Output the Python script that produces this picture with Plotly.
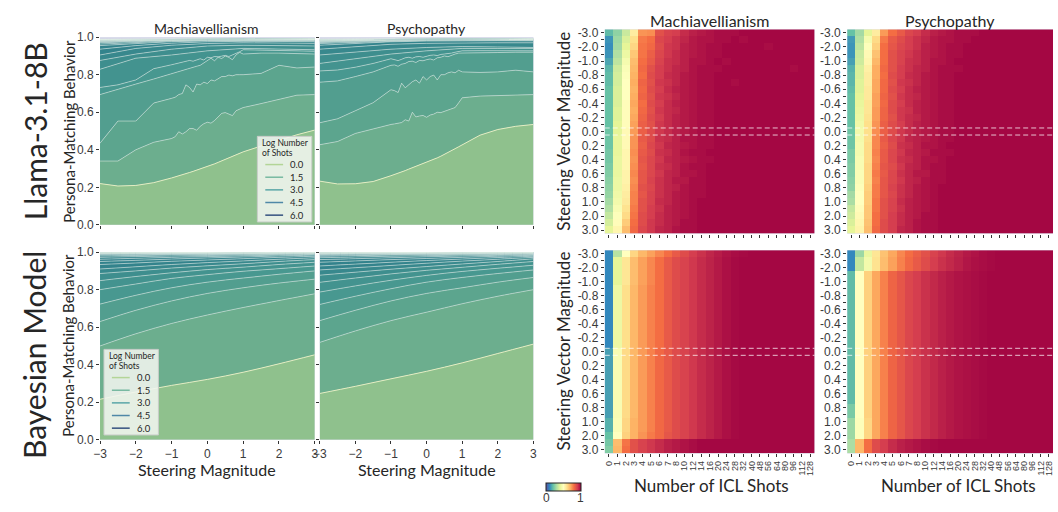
import plotly.graph_objects as go

W, H = 1058, 512
def PX(x): return x / W
def PY(y): return 1 - y / H

# ---------------- data ----------------
STEER_FINE = [-3, -2.5, -2, -1.5, -1, -0.9, -0.8, -0.7, -0.6, -0.5, -0.4, -0.3, -0.2, -0.1, 0.0,
              0.1, 0.2, 0.3, 0.4, 0.5, 0.6, 0.7, 0.8, 0.9, 1, 1.5, 2, 2.5, 3]
STEER_COARSE = [-3, -2, -1, 0, 1, 2, 3]
SHOTS = [0, 1, 2, 3, 4, 5, 6, 7, 8, 10, 12, 14, 16, 20, 24, 28, 32, 40, 48, 56, 64, 80, 96, 112, 128]
BEHAVIOR_TICKS = [0.0, 0.2, 0.4, 0.6, 0.8, 1.0]
LEGEND_LEVELS = [0.0, 1.5, 3.0, 4.5, 6.0]
COLORBAR_TICKS = [0, 1]

LLAMA_MACH_LINES = [
    [.22, .207, .21, .225, .25, .255, .26, .266, .272, .279, .285, .291, .297, .303, .31, .317, .325, .333, .341, .349, .357, .365, .373, .381, .389, .42, .45, .48, .505],
    [.34, .34, .40, .44, .46, .47, .496, .484, .496, .513, .513, .504, .525, .539, .547, .542, .556, .573, .594, .598, .59, .582, .608, .617, .625, .646, .668, .691, .694],
    [.435, .553, .553, .649, .674, .68, .694, .70, .746, .732, .708, .75, .746, .76, .753, .772, .767, .78, .79, .79, .798, .794, .80, .80, .80, .807, .85, .836, .841],
    [.694, .72, .75, .777, .807, .812, .818, .823, .829, .836, .84, .845, .85, .862, .876, .888, .874, .893, .886, .90, .892, .88, .905, .919, .91, .915, .915, .912, .91],
    [.732, .746, .772, .832, .853, .858, .862, .866, .87, .876, .872, .88, .885, .878, .893, .89, .897, .895, .90, .903, .897, .905, .91, .922, .933, .93, .928, .926, .925],
    [.829, .888, .905, .927, .94, .935, .933],
    [.876, .91, .936, .953, .957, .955, .953],
    [.905, .94, .957, .966, .97, .968, .967],
    [.936, .955, .968, .975, .978, .977, .976],
    [.955, .966, .976, .980, .982, .981, .980],
    [.963, .972, .979, .983, .984, .984, .983],
    [.970, .977, .982, .985, .986, .986, .985],
    [.974, .980, .984, .986, .987, .987, .986],
    [.977, .982, .985, .987, .988, .988, .987],
    [.979, .983, .986, .988, .988, .988, .988],
    [.981, .984, .987, .988, .989, .989, .988],
    [.982, .985, .987, .989, .989, .989, .989],
    [.983, .986, .988, .989, .989, .989, .989],
    [.984, .987, .988, .989, .990, .990, .989],
    [.985, .987, .989, .990, .990, .990, .990],
    [.986, .988, .989, .990, .990, .990, .990],
    [.987, .988, .989, .990, .991, .990, .990],
    [.987, .989, .990, .990, .991, .991, .990],
    [.988, .989, .990, .991, .991, .991, .991],
    [.988, .990, .990, .991, .991, .991, .991],
]

LLAMA_PSYCH_LINES = [
    [.233, .218, .219, .231, .262, .268, .275, .282, .289, .297, .304, .311, .318, .325, .332, .34, .349, .357, .366, .375, .385, .395, .406, .416, .427, .478, .508, .525, .535],
    [.427, .444, .487, .513, .535, .538, .54, .545, .56, .553, .60, .575, .58, .583, .573, .585, .59, .60, .598, .605, .61, .615, .625, .65, .677, .686, .69, .694, .694],
    [.544, .565, .608, .651, .72, .715, .705, .755, .73, .746, .763, .772, .755, .79, .772, .79, .798, .772, .80, .80, .81, .815, .81, .824, .815, .812, .815, .824, .815],
    [.76, .767, .79, .815, .85, .852, .845, .856, .86, .87, .872, .865, .876, .874, .88, .884, .878, .89, .893, .90, .896, .905, .91, .915, .915, .918, .918, .92, .92],
    [.82, .825, .84, .86, .885, .88, .875, .882, .89, .893, .888, .895, .897, .893, .90, .903, .905, .902, .908, .91, .912, .915, .92, .925, .927, .928, .928, .927, .927],
    [.86, .885, .91, .927, .94, .94, .94],
    [.905, .92, .936, .945, .95, .948, .945],
    [.936, .95, .962, .967, .97, .97, .97],
    [.957, .966, .975, .979, .981, .981, .98],
    [.966, .973, .979, .983, .984, .984, .983],
    [.971, .977, .982, .985, .986, .986, .985],
    [.975, .980, .984, .986, .987, .987, .986],
    [.977, .982, .985, .987, .988, .988, .987],
    [.979, .983, .986, .988, .988, .988, .988],
    [.981, .984, .987, .988, .989, .989, .988],
    [.982, .985, .987, .989, .989, .989, .989],
    [.983, .986, .988, .989, .989, .989, .989],
    [.984, .987, .988, .989, .990, .990, .989],
    [.985, .987, .989, .990, .990, .990, .990],
    [.986, .988, .989, .990, .990, .990, .990],
    [.987, .988, .989, .990, .991, .990, .990],
    [.987, .989, .990, .990, .991, .991, .990],
    [.988, .989, .990, .991, .991, .991, .991],
    [.988, .990, .990, .991, .991, .991, .991],
    [.989, .990, .991, .991, .992, .991, .991],
]

BAYES_MACH_LINES = [
    [.216, .255, .29, .322, .36, .405, .453],
    [.50, .565, .62, .665, .705, .742, .778],
    [.63, .69, .74, .78, .81, .835, .856],
    [.723, .77, .81, .84, .862, .882, .90],
    [.80, .83, .86, .88, .898, .912, .926],
    [.848, .87, .89, .907, .92, .934, .946],
    [.886, .90, .915, .927, .938, .95, .96],
    [.91, .922, .934, .944, .953, .962, .97],
    [.934, .942, .951, .958, .965, .972, .978],
    [.95, .956, .963, .969, .974, .979, .984],
    [.962, .967, .972, .976, .98, .984, .988],
    [.972, .976, .979, .982, .985, .988, .991],
    [.979, .982, .985, .987, .989, .991, .993],
    [.984, .986, .988, .99, .991, .993, .994],
    [.988, .989, .991, .992, .993, .994, .995],
    [.991, .992, .993, .994, .995, .995, .996],
    [.993, .994, .994, .995, .996, .996, .997],
    [.994, .995, .995, .996, .996, .997, .997],
    [.995, .996, .996, .997, .997, .997, .998],
    [.996, .996, .997, .997, .997, .998, .998],
    [.996, .997, .997, .997, .998, .998, .998],
    [.997, .997, .997, .998, .998, .998, .998],
    [.997, .997, .998, .998, .998, .998, .999],
    [.997, .998, .998, .998, .998, .999, .999],
    [.998, .998, .998, .998, .999, .999, .999],
]

BAYES_PSYCH_LINES = [
    [.247, .285, .325, .365, .41, .46, .51],
    [.519, .58, .635, .68, .725, .765, .80],
    [.635, .69, .74, .78, .81, .84, .865],
    [.721, .765, .805, .84, .865, .886, .905],
    [.787, .82, .85, .876, .897, .914, .93],
    [.839, .862, .884, .903, .919, .935, .95],
    [.877, .893, .909, .923, .937, .95, .964],
    [.905, .917, .929, .941, .952, .962, .972],
    [.926, .936, .946, .955, .963, .971, .978],
    [.946, .953, .96, .966, .972, .978, .983],
    [.96, .965, .97, .975, .979, .983, .987],
    [.97, .974, .978, .981, .984, .987, .99],
    [.978, .981, .984, .986, .988, .99, .992],
    [.983, .985, .987, .989, .991, .992, .994],
    [.987, .989, .99, .991, .993, .994, .995],
    [.99, .991, .992, .993, .994, .995, .996],
    [.992, .993, .994, .995, .995, .996, .997],
    [.994, .994, .995, .996, .996, .997, .997],
    [.995, .995, .996, .996, .997, .997, .998],
    [.996, .996, .997, .997, .997, .998, .998],
    [.996, .997, .997, .997, .998, .998, .998],
    [.997, .997, .997, .998, .998, .998, .998],
    [.997, .997, .998, .998, .998, .998, .999],
    [.997, .998, .998, .998, .998, .999, .999],
    [.998, .998, .998, .998, .999, .999, .999],
]

LLAMA_MACH_HEAT = [
    [.19, .26, .35, .56, .74, .75, .86, .89, .90, .93, .95, .96, .97, .98, .98, .98, .99, .99, .99, .99, .99, .99, .99, .99, .99],
    [.12, .28, .38, .60, .78, .80, .88, .90, .92, .94, .96, .97, .97, .98, .98, .99, .98, .99, .99, .99, .99, .99, .99, .99, .99],
    [.11, .29, .40, .62, .79, .81, .87, .91, .92, .95, .96, .97, .98, .98, .99, .99, .99, .99, .99, .98, .99, .99, .99, .99, .99],
    [.12, .31, .43, .65, .79, .83, .88, .91, .93, .95, .96, .97, .98, .98, .99, .99, .99, .99, .99, .99, .99, .99, .99, .99, .99],
    [.15, .33, .46, .67, .80, .84, .89, .92, .93, .95, .97, .97, .98, .99, .98, .99, .99, .99, .99, .99, .99, .99, .99, .99, .99],
    [.18, .36, .48, .68, .81, .86, .90, .92, .94, .95, .97, .98, .98, .98, .99, .99, .99, .99, .99, .99, .99, .99, .98, .99, .99],
    [.19, .37, .49, .69, .80, .87, .90, .93, .94, .96, .97, .98, .98, .99, .99, .99, .99, .99, .99, .99, .99, .99, .99, .99, .99],
    [.19, .37, .50, .70, .82, .86, .91, .92, .94, .96, .97, .98, .98, .99, .99, .98, .99, .99, .99, .99, .99, .99, .99, .99, .99],
    [.20, .38, .50, .69, .81, .87, .90, .93, .95, .96, .97, .98, .98, .99, .99, .99, .99, .99, .99, .99, .99, .99, .99, .99, .99],
    [.20, .38, .50, .70, .82, .86, .91, .92, .94, .96, .97, .98, .98, .99, .99, .99, .99, .99, .99, .99, .99, .99, .99, .99, .99],
    [.20, .38, .51, .71, .80, .87, .90, .93, .95, .96, .97, .98, .98, .99, .99, .99, .99, .99, .99, .99, .99, .99, .99, .99, .99],
    [.20, .39, .51, .70, .81, .86, .91, .93, .94, .96, .97, .98, .98, .99, .99, .99, .99, .99, .99, .99, .99, .99, .99, .99, .99],
    [.20, .39, .51, .71, .82, .87, .90, .93, .95, .96, .97, .98, .98, .99, .99, .99, .99, .99, .99, .99, .99, .99, .99, .99, .99],
    [.20, .40, .51, .72, .83, .86, .91, .93, .95, .96, .97, .98, .98, .99, .99, .99, .99, .99, .99, .99, .99, .99, .99, .99, .99],
    [.21, .40, .52, .73, .83, .87, .91, .93, .95, .96, .97, .98, .98, .99, .99, .99, .99, .99, .99, .99, .99, .99, .99, .99, .99],
    [.21, .41, .52, .74, .84, .87, .92, .93, .95, .97, .97, .98, .98, .99, .99, .99, .99, .99, .99, .99, .99, .99, .99, .99, .99],
    [.21, .41, .52, .74, .83, .88, .91, .94, .95, .96, .97, .98, .98, .99, .99, .99, .99, .99, .99, .99, .99, .99, .99, .99, .99],
    [.22, .41, .53, .75, .84, .87, .92, .93, .95, .97, .98, .98, .99, .99, .99, .99, .99, .99, .99, .99, .99, .99, .99, .99, .99],
    [.22, .42, .53, .74, .85, .88, .91, .94, .95, .96, .97, .98, .98, .99, .99, .99, .99, .99, .99, .99, .99, .99, .99, .99, .99],
    [.23, .42, .53, .75, .84, .88, .92, .93, .95, .97, .98, .98, .99, .99, .99, .99, .99, .99, .99, .99, .99, .99, .99, .99, .99],
    [.24, .42, .54, .76, .85, .88, .91, .94, .95, .97, .97, .98, .99, .99, .99, .99, .99, .99, .99, .99, .99, .99, .99, .99, .99],
    [.25, .43, .54, .75, .85, .89, .92, .94, .96, .96, .98, .98, .99, .99, .99, .99, .99, .99, .99, .99, .99, .99, .99, .99, .99],
    [.26, .43, .55, .76, .86, .88, .92, .94, .95, .97, .98, .98, .99, .99, .99, .99, .99, .99, .99, .99, .99, .99, .99, .99, .99],
    [.27, .44, .56, .77, .85, .89, .92, .94, .96, .97, .98, .98, .99, .99, .99, .99, .99, .99, .99, .99, .99, .99, .99, .99, .99],
    [.29, .45, .57, .77, .86, .89, .93, .94, .96, .97, .98, .99, .99, .99, .99, .99, .99, .99, .99, .99, .99, .99, .99, .99, .99],
    [.31, .47, .59, .78, .86, .90, .92, .95, .96, .97, .98, .99, .99, .99, .99, .99, .99, .99, .99, .99, .99, .99, .99, .99, .99],
    [.34, .49, .61, .79, .87, .90, .93, .95, .96, .97, .98, .99, .99, .99, .99, .99, .99, .99, .99, .99, .99, .99, .99, .99, .99],
    [.37, .51, .64, .80, .87, .91, .93, .95, .96, .98, .98, .99, .99, .99, .99, .99, .99, .99, .99, .99, .99, .99, .99, .99, .99],
    [.40, .53, .67, .81, .88, .91, .94, .95, .97, .98, .98, .99, .99, .99, .99, .99, .99, .99, .99, .99, .99, .99, .99, .99, .99],
]

LLAMA_PSYCH_HEAT = [
    [.20, .29, .40, .56, .73, .80, .84, .88, .90, .93, .95, .96, .97, .98, .98, .98, .99, .99, .99, .99, .99, .99, .99, .99, .99],
    [.13, .31, .46, .61, .78, .84, .87, .90, .92, .94, .96, .97, .97, .98, .98, .99, .99, .99, .99, .99, .99, .99, .99, .99, .99],
    [.12, .33, .49, .63, .80, .85, .88, .90, .92, .95, .96, .97, .98, .98, .99, .99, .99, .99, .99, .99, .99, .99, .99, .99, .99],
    [.12, .35, .52, .66, .80, .86, .89, .91, .93, .95, .96, .97, .98, .98, .99, .99, .99, .99, .99, .99, .99, .99, .99, .99, .99],
    [.14, .36, .53, .68, .80, .86, .89, .92, .93, .95, .97, .97, .98, .99, .99, .99, .99, .99, .99, .99, .99, .99, .99, .99, .99],
    [.17, .38, .55, .70, .81, .86, .90, .92, .94, .95, .97, .98, .98, .98, .99, .99, .99, .99, .99, .99, .99, .99, .99, .99, .99],
    [.18, .38, .56, .70, .80, .87, .90, .93, .94, .96, .97, .98, .98, .99, .99, .99, .99, .99, .99, .99, .99, .99, .99, .99, .99],
    [.18, .39, .56, .71, .81, .86, .91, .92, .94, .96, .97, .98, .98, .99, .99, .99, .99, .99, .99, .99, .99, .99, .99, .99, .99],
    [.19, .39, .57, .71, .81, .87, .90, .93, .95, .96, .97, .98, .98, .99, .99, .99, .99, .99, .99, .99, .99, .99, .99, .99, .99],
    [.20, .40, .57, .72, .82, .86, .91, .93, .94, .96, .97, .98, .98, .99, .99, .99, .99, .99, .99, .99, .99, .99, .99, .99, .99],
    [.20, .41, .58, .72, .81, .87, .90, .93, .95, .96, .97, .98, .98, .99, .99, .99, .99, .99, .99, .99, .99, .99, .99, .99, .99],
    [.20, .42, .58, .73, .82, .87, .91, .92, .95, .96, .97, .98, .98, .99, .99, .99, .99, .99, .99, .99, .99, .99, .99, .99, .99],
    [.20, .43, .59, .73, .82, .86, .91, .93, .94, .96, .97, .98, .98, .99, .99, .99, .99, .99, .99, .99, .99, .99, .99, .99, .99],
    [.20, .44, .60, .74, .83, .87, .90, .93, .95, .96, .97, .98, .98, .99, .99, .99, .99, .99, .99, .99, .99, .99, .99, .99, .99],
    [.21, .45, .60, .75, .83, .87, .91, .93, .95, .96, .97, .98, .98, .99, .99, .99, .99, .99, .99, .99, .99, .99, .99, .99, .99],
    [.21, .45, .60, .76, .84, .88, .91, .94, .95, .96, .97, .98, .98, .99, .99, .99, .99, .99, .99, .99, .99, .99, .99, .99, .99],
    [.21, .46, .61, .76, .83, .87, .92, .93, .95, .97, .97, .98, .99, .99, .99, .99, .99, .99, .99, .99, .99, .99, .99, .99, .99],
    [.23, .46, .61, .77, .84, .88, .91, .94, .95, .96, .98, .98, .98, .99, .99, .99, .99, .99, .99, .99, .99, .99, .99, .99, .99],
    [.23, .47, .61, .76, .84, .88, .92, .93, .95, .97, .97, .98, .99, .99, .99, .99, .99, .99, .99, .99, .99, .99, .99, .99, .99],
    [.24, .47, .62, .77, .85, .87, .91, .94, .95, .97, .98, .98, .99, .99, .99, .99, .99, .99, .99, .99, .99, .99, .99, .99, .99],
    [.24, .48, .62, .78, .84, .88, .92, .94, .96, .96, .98, .98, .99, .99, .99, .99, .99, .99, .99, .99, .99, .99, .99, .99, .99],
    [.25, .48, .62, .77, .85, .88, .91, .94, .95, .97, .98, .98, .99, .99, .99, .99, .99, .99, .99, .99, .99, .99, .99, .99, .99],
    [.26, .49, .63, .78, .85, .89, .92, .94, .96, .97, .98, .99, .99, .99, .99, .99, .99, .99, .99, .99, .99, .99, .99, .99, .99],
    [.29, .50, .64, .78, .85, .88, .92, .94, .96, .97, .98, .99, .99, .99, .99, .99, .99, .99, .99, .99, .99, .99, .99, .99, .99],
    [.30, .50, .64, .79, .86, .89, .93, .95, .96, .97, .98, .99, .99, .99, .99, .99, .99, .99, .99, .99, .99, .99, .99, .99, .99],
    [.34, .51, .65, .79, .86, .89, .92, .95, .96, .97, .98, .99, .99, .99, .99, .99, .99, .99, .99, .99, .99, .99, .99, .99, .99],
    [.36, .52, .65, .80, .86, .90, .93, .95, .96, .98, .98, .99, .99, .99, .99, .99, .99, .99, .99, .99, .99, .99, .99, .99, .99],
    [.38, .53, .66, .80, .87, .90, .93, .95, .97, .98, .98, .99, .99, .99, .99, .99, .99, .99, .99, .99, .99, .99, .99, .99, .99],
    [.40, .54, .67, .81, .87, .90, .94, .95, .97, .98, .98, .99, .99, .99, .99, .99, .99, .99, .99, .99, .99, .99, .99, .99, .99],
]

# Bayesian heatmaps: rows that read identical in the picture are shared
BM_ROW_TOP = [.10, .32, .50, .62, .68, .72, .76, .80, .84, .87, .90, .92, .94, .955, .97, .98, .985, .99, .99, .99, .99, .99, .99, .99, .99]
BM_ROW_NEG = [.10, .40, .58, .67, .72, .76, .80, .84, .87, .89, .91, .93, .945, .96, .975, .985, .99, .99, .99, .99, .99, .99, .99, .99, .99]
BM_ROW_MID = [.10, .43, .60, .68, .73, .77, .80, .84, .87, .89, .91, .93, .945, .96, .975, .985, .99, .99, .99, .99, .99, .99, .99, .99, .99]
BM_ROW_POS = [.14, .47, .61, .68, .73, .77, .81, .84, .87, .89, .91, .93, .945, .96, .975, .985, .99, .99, .99, .99, .99, .99, .99, .99, .99]
BM_ROW_ONE = [.17, .48, .62, .69, .73, .77, .81, .84, .87, .89, .91, .93, .945, .96, .975, .985, .99, .99, .99, .99, .99, .99, .99, .99, .99]
BM_ROW_TWO = [.20, .50, .63, .69, .74, .78, .81, .85, .87, .89, .91, .93, .945, .96, .975, .985, .99, .99, .99, .99, .99, .99, .99, .99, .99]
BM_ROW_B27 = [.22, .67, .79, .86, .89, .91, .93, .95, .96, .97, .98, .99, .99, .99, .99, .99, .99, .99, .99, .99, .99, .99, .99, .99, .99]
BM_ROW_B28 = [.24, .68, .80, .86, .89, .91, .93, .95, .96, .97, .98, .99, .99, .99, .99, .99, .99, .99, .99, .99, .99, .99, .99, .99, .99]
BAYES_MACH_HEAT = ([BM_ROW_TOP] + [BM_ROW_NEG] * 4 + [BM_ROW_MID] * 9 + [BM_ROW_POS] * 10
                   + [BM_ROW_ONE] * 2 + [BM_ROW_TWO] + [BM_ROW_B27, BM_ROW_B28])

BP_ROW_TOP = [.10, .28, .42, .58, .66, .71, .76, .80, .83, .86, .89, .91, .93, .945, .96, .97, .98, .985, .99, .99, .99, .99, .99, .99, .99]
BP_ROW_NEG = [.10, .34, .45, .59, .67, .72, .77, .81, .84, .87, .90, .92, .935, .95, .965, .975, .98, .985, .99, .99, .99, .99, .99, .99, .99]
BP_ROW_MID = [.19, .50, .63, .71, .77, .82, .85, .88, .90, .92, .935, .95, .96, .97, .975, .98, .985, .99, .99, .99, .99, .99, .99, .99, .99]
BP_ROW_LOW = [.23, .50, .63, .71, .77, .82, .85, .88, .90, .92, .935, .95, .96, .97, .975, .98, .985, .99, .99, .99, .99, .99, .99, .99, .99]
BP_ROW_ONE = [.28, .49, .62, .71, .77, .82, .85, .88, .90, .92, .935, .95, .96, .97, .975, .98, .985, .99, .99, .99, .99, .99, .99, .99, .99]
BP_ROW_BOT = [.30, .68, .80, .87, .90, .93, .95, .96, .97, .98, .985, .99, .99, .99, .99, .99, .99, .99, .99, .99, .99, .99, .99, .99, .99]
BAYES_PSYCH_HEAT = ([BP_ROW_TOP] + [BP_ROW_NEG] * 2 + [BP_ROW_MID] * 19 + [BP_ROW_LOW] * 2
                    + [BP_ROW_ONE] * 3 + [BP_ROW_BOT] * 2)

# ---------------- styling ----------------
LABEL_FONT = "Lato, 'Open Sans', sans-serif"
TICK_FONT = "'Liberation Sans', Arial, sans-serif"
TXT = '#262626'

BAND_STOPS = [(0, (143, 193, 141)), (1, (108, 174, 142)), (2, (92, 165, 142)), (4, (72, 152, 144)),
              (8, (51, 131, 140)), (24, (42, 118, 136))]

def band_color(k):
    for (k0, c0), (k1, c1) in zip(BAND_STOPS[:-1], BAND_STOPS[1:]):
        if k0 <= k <= k1:
            t = (k - k0) / (k1 - k0)
            r, g, b = [round(a + (b_ - a) * t) for a, b_ in zip(c0, c1)]
            return f'rgb({r},{g},{b})'
    return 'rgb(42,118,136)'

LINE0 = 'rgba(236,242,196,0.9)'
LINEK = 'rgba(222,236,228,0.55)'
LEGEND_COLORS = ['#b3d597', '#78b9a1', '#5ba7a8', '#4f88a7', '#34517f']

fig = go.Figure()

line_panels = [(LLAMA_MACH_LINES, 'x', 'y', False), (LLAMA_PSYCH_LINES, 'x2', 'y2', False),
               (BAYES_MACH_LINES, 'x3', 'y3', True), (BAYES_PSYCH_LINES, 'x4', 'y4', True)]
for lines, xa, ya, smooth in line_panels:
    for k, vals in enumerate(lines):
        xs = STEER_FINE if len(vals) == len(STEER_FINE) else STEER_COARSE
        fig.add_trace(go.Scatter(
            x=xs, y=vals, mode='lines', xaxis=xa, yaxis=ya,
            line=dict(color=LINE0 if k == 0 else LINEK, width=1,
                      shape='spline' if smooth else 'linear'),
            fill='tozeroy' if k == 0 else 'tonexty', fillcolor=band_color(k),
            showlegend=False, hoverinfo='skip'))

heat_panels = [(LLAMA_MACH_HEAT, 'x5', 'y5'), (LLAMA_PSYCH_HEAT, 'x6', 'y6'),
               (BAYES_MACH_HEAT, 'x7', 'y7'), (BAYES_PSYCH_HEAT, 'x8', 'y8')]
for z, xa, ya in heat_panels:
    fig.add_trace(go.Heatmap(z=z, coloraxis='coloraxis', xaxis=xa, yaxis=ya, hoverinfo='skip'))

LINE_X = [(94, 311), (316, 532)]
LINE_Y = [(31, 224), (252, 445)]
HEAT_X = [(604, 816), (849, 1057)]
HEAT_Y = [(23, 233), (250, 459)]

tickfont = dict(family=TICK_FONT, size=12, color='#3a3a3a')
layout = {}
n = 1
for r in range(2):
    for c in range(2):
        key = '' if n == 1 else str(n)
        layout['xaxis' + key] = dict(
            domain=[PX(LINE_X[c][0]), PX(LINE_X[c][1])], anchor='y' + key, range=[-3, 3],
            tickvals=STEER_COARSE, ticks='outside', ticklen=3, tickcolor='#333',
            showticklabels=(r == 1), showgrid=False, zeroline=False, showline=False,
            tickfont=tickfont)
        layout['yaxis' + key] = dict(
            domain=[PY(LINE_Y[r][1]), PY(LINE_Y[r][0])], anchor='x' + key, range=[0, 1],
            tickvals=BEHAVIOR_TICKS, tickformat='.1f', ticks='outside', ticklen=3, tickcolor='#333',
            showticklabels=(c == 0), showgrid=False, zeroline=False, showline=False,
            tickfont=tickfont)
        n += 1

row_labels = [f'{s:.1f}' if i % 2 == 0 else '' for i, s in enumerate(STEER_FINE)]
for r in range(2):
    for c in range(2):
        key = str(n)
        layout['xaxis' + key] = dict(
            domain=[PX(HEAT_X[c][0]), PX(HEAT_X[c][1])], anchor='y' + key,
            range=[-0.5, len(SHOTS) - 0.5], tickvals=list(range(len(SHOTS))),
            ticktext=[str(s) for s in SHOTS], tickangle=-90, ticks='outside', ticklen=3,
            tickcolor='#333', showticklabels=(r == 1), showgrid=False, zeroline=False,
            showline=False, tickfont=dict(family=TICK_FONT, size=9, color='#3a3a3a'))
        layout['yaxis' + key] = dict(
            domain=[PY(HEAT_Y[r][1]), PY(HEAT_Y[r][0])], anchor='x' + key,
            range=[len(STEER_FINE) - 0.5, -0.5], tickvals=list(range(len(STEER_FINE))),
            ticktext=row_labels, ticks='outside', ticklen=3, tickcolor='#333',
            showgrid=False, zeroline=False, showline=False, tickfont=tickfont)
        n += 1

shapes = []
zero_idx = STEER_FINE.index(0.0)
for n in range(5, 9):
    for yy in (zero_idx - 0.5, zero_idx + 0.5):
        shapes.append(dict(type='line', xref=f'x{n} domain', x0=0, x1=1, yref=f'y{n}', y0=yy, y1=yy,
                           line=dict(color='rgba(255,255,255,0.75)', width=1, dash='5px,3px')))

annotations = []
def ann(text, x, y, size, angle=0, family=LABEL_FONT, color=TXT, xanchor='center', yanchor='middle'):
    annotations.append(dict(text=text, x=PX(x), y=PY(y), xref='paper', yref='paper', showarrow=False,
                            textangle=angle, font=dict(family=family, size=size, color=color),
                            xanchor=xanchor, yanchor=yanchor))

ann('Llama-3.1-8B', 28, 128, 30, -90)
ann('Bayesian Model', 28, 358, 30, -90)
for yc in (128, 348):
    ann('Persona-Matching Behavior', 62, yc, 15, -90)
ann('Machiavellianism', 202, 22, 14)
ann('Psychopathy', 424, 22, 14)
ann('Steering Magnitude', 202, 476, 16)
ann('Steering Magnitude', 424, 476, 16)
ann('Machiavellianism', 710, 14, 16)
ann('Psychopathy', 953, 14, 16)
for yc in (128, 354):
    ann('Steering Vector Magnitude', 562, yc, 17, -90)
ann('Number of ICL Shots', 712, 492, 17)
ann('Number of ICL Shots', 962, 492, 17)

# colorbar tick labels (0 and 1 at the two ends of the bar)
CB_X0, CB_X1 = 545, 580
for v in COLORBAR_TICKS:
    ann(str(v), CB_X0 + (CB_X1 - CB_X0) * v, 505, 12, family=TICK_FONT, color='#3a3a3a')

# legends (drawn as boxes with sample lines)
for bx, by in ((253, 133), (98, 352)):
    shapes.append(dict(type='rect', xref='paper', yref='paper', x0=PX(bx), x1=PX(bx + 55),
                       y0=PY(by + 88), y1=PY(by), fillcolor='rgba(241,245,239,0.88)',
                       line=dict(color='#c9cdc9', width=1)))
    ann('Log Number', bx + 3, by + 7, 8.5, xanchor='left')
    ann('of Shots', bx + 3, by + 17, 8.5, xanchor='left')
    for i, (lvl, col) in enumerate(zip(LEGEND_LEVELS, LEGEND_COLORS)):
        yy = by + 29 + i * 13
        shapes.append(dict(type='line', xref='paper', yref='paper', x0=PX(bx + 8), x1=PX(bx + 26),
                           y0=PY(yy), y1=PY(yy), line=dict(color=col, width=1.5)))
        ann(f'{lvl:.1f}', bx + 31, yy, 9.5, xanchor='left')

fig.update_layout(
    width=W, height=H, autosize=False, margin=dict(l=0, r=0, t=0, b=0),
    paper_bgcolor='white', plot_bgcolor='#d4d6e8', showlegend=False,
    coloraxis=dict(colorscale='Spectral_r', cmin=0, cmax=1,
                   colorbar=dict(orientation='h', x=PX(CB_X0), xanchor='left', y=PY(489), yanchor='top',
                                 lenmode='pixels', len=CB_X1 - CB_X0, thicknessmode='pixels', thickness=8,
                                 xpad=0, ypad=0, tickvals=COLORBAR_TICKS, showticklabels=False, ticks='',
                                 outlinewidth=1, outlinecolor='#222')),
    shapes=shapes, annotations=annotations, **layout)

fig.write_html('out.html')
